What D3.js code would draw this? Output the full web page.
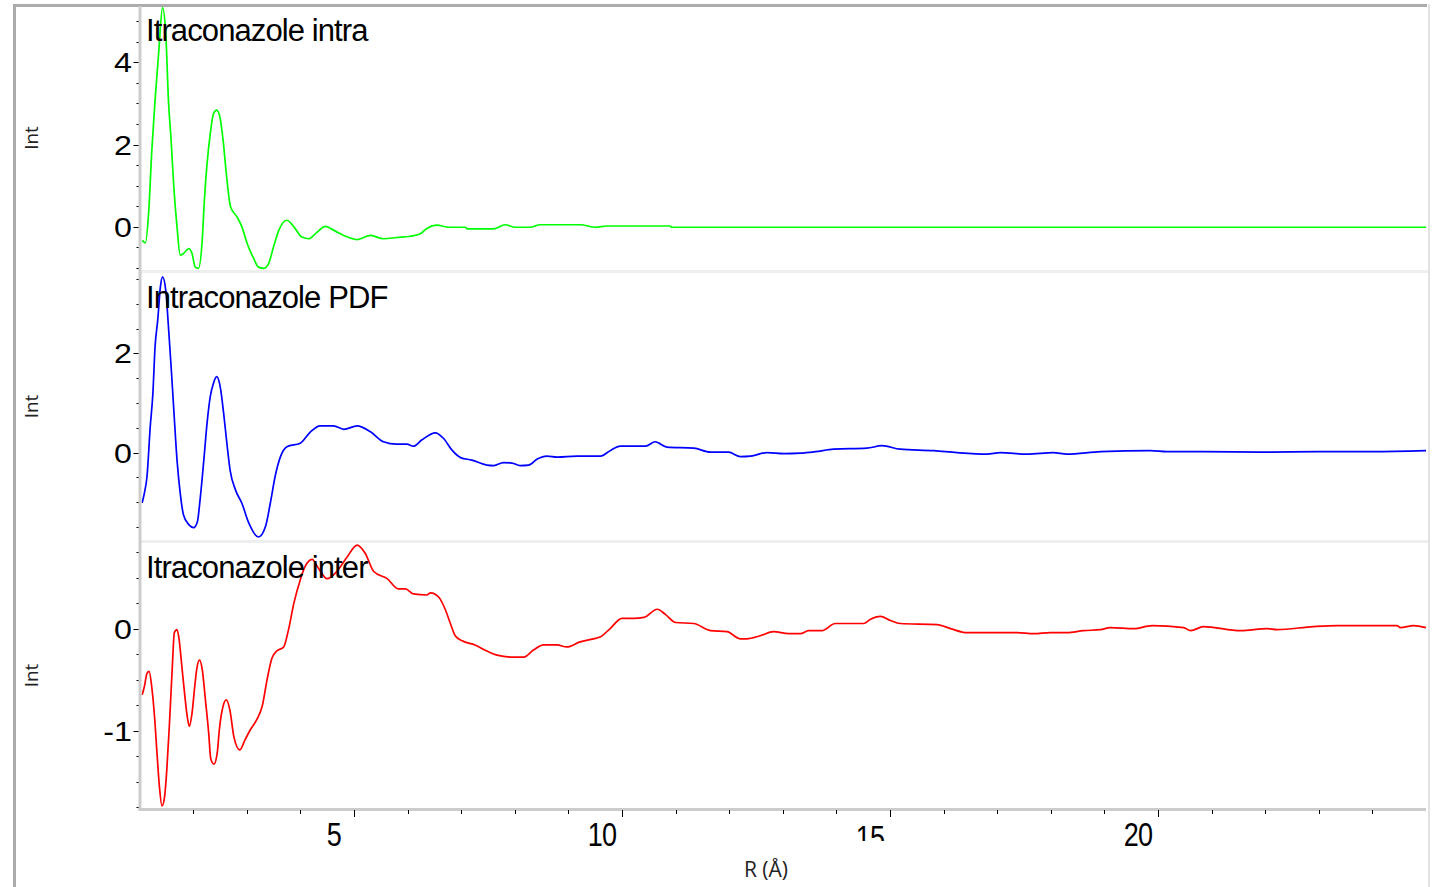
<!DOCTYPE html>
<html>
<head>
<meta charset="utf-8">
<script src="https://cdn.jsdelivr.net/npm/d3@7"></script>
<style>
  html, body { margin: 0; padding: 0; background: #fff; }
  svg { display: block; }
</style>
</head>
<body>
<svg id="chart" width="1435" height="887"></svg>
<script>
// Pair distribution functions of itraconazole: R (Å) and Int values per trace
const intraR = [1.05,1.11,1.17,1.23,1.29,1.36,1.43,1.49,1.54,1.59,1.64,1.70,1.76,1.82,1.92,1.98,2.04,2.10,2.17,2.21,2.26,2.32,2.38,2.44,2.50,2.56,2.62,2.70,2.82,2.91,3.01,3.13,3.22,3.32,3.41,3.50,3.60,3.75,3.88,4.03,4.16,4.28,4.47,4.62,4.81,5.06,5.31,5.55,5.80,6.05,6.24,6.36,6.55,6.77,7.08,7.11,7.61,7.82,8.01,8.29,8.47,9.22,9.50,9.72,10.90,10.93,13,16,19,22,25];
const intraInt = [-0.33,-0.39,0.33,1.86,3.07,4.28,5.33,4.70,3.07,2.10,0.97,0.00,-0.69,-0.65,-0.53,-0.65,-0.98,-1.01,-0.33,0.64,1.53,2.26,2.75,2.84,2.67,2.10,1.29,0.48,0.24,0.00,-0.41,-0.77,-0.98,-1.01,-0.89,-0.49,-0.08,0.16,0.00,-0.25,-0.29,-0.17,0.01,-0.08,-0.21,-0.31,-0.21,-0.29,-0.26,-0.23,-0.17,-0.04,0.04,-0.01,-0.01,-0.05,-0.05,0.05,-0.01,-0.01,0.05,0.05,-0.01,0.02,0.02,-0.01,-0.01,-0.01,-0.01,-0.01,-0.01];

const pdfR = [1.05,1.09,1.14,1.20,1.25,1.29,1.34,1.39,1.43,1.49,1.54,1.59,1.64,1.70,1.76,1.82,1.92,2.01,2.08,2.13,2.20,2.26,2.32,2.38,2.44,2.51,2.57,2.63,2.69,2.79,2.91,3.04,3.22,3.35,3.44,3.53,3.63,3.75,4.00,4.19,4.37,4.62,4.81,5.06,5.31,5.55,5.80,5.99,6.11,6.27,6.52,6.67,6.83,6.99,7.20,7.48,7.61,7.79,7.95,8.10,8.26,8.42,8.60,8.79,9.16,9.60,9.78,9.97,10.44,10.62,10.84,11.34,11.65,11.99,12.21,12.40,12.71,13.02,13.33,13.61,13.95,14.57,14.85,15.19,15.82,16.25,16.81,17.06,17.56,18.05,18.30,18.93,19.86,20.17,20.79,22,23,24,25];
const pdfInt = [-1.01,-0.82,-0.48,0.52,1.20,2.13,2.67,3.34,3.54,3.27,2.54,1.73,0.86,-0.15,-0.82,-1.25,-1.45,-1.51,-1.39,-0.95,-0.15,0.59,1.13,1.40,1.53,1.30,0.79,0.19,-0.35,-0.75,-1.02,-1.42,-1.70,-1.49,-1.02,-0.48,-0.08,0.12,0.19,0.42,0.54,0.54,0.47,0.54,0.42,0.22,0.17,0.17,0.13,0.26,0.40,0.29,0.05,-0.10,-0.15,-0.25,-0.26,-0.20,-0.21,-0.26,-0.25,-0.13,-0.07,-0.09,-0.07,-0.07,0.04,0.13,0.13,0.22,0.11,0.09,0.01,0.01,-0.08,-0.07,0.00,-0.02,-0.01,0.02,0.07,0.09,0.14,0.07,0.04,0.00,-0.03,0.00,-0.03,0.00,-0.03,0.02,0.04,0.02,0.02,0.01,0.02,0.02,0.04];

const interR = [1.05,1.09,1.14,1.18,1.23,1.28,1.33,1.37,1.42,1.47,1.51,1.56,1.61,1.65,1.70,1.74,1.79,1.84,1.89,1.93,1.98,2.03,2.07,2.12,2.17,2.23,2.29,2.33,2.39,2.45,2.49,2.56,2.62,2.69,2.76,2.87,2.97,3.07,3.19,3.29,3.38,3.47,3.56,3.69,3.78,3.88,4.00,4.09,4.22,4.34,4.50,4.68,4.87,5.06,5.21,5.37,5.62,5.83,5.96,6.11,6.36,6.43,6.58,6.71,6.80,6.89,7.02,7.26,7.48,7.67,7.98,8.17,8.35,8.54,8.79,8.97,9.22,9.47,9.60,9.78,10.00,10.22,10.41,10.66,10.81,11.00,11.34,11.65,11.96,12.21,12.33,12.58,12.83,13.11,13.33,13.48,13.73,13.98,14.51,14.63,14.82,15.01,15.19,15.88,16.13,16.44,17.37,17.68,17.99,18.30,18.61,18.93,19.11,19.55,19.89,20.48,20.61,20.85,21.54,22.04,22.22,22.90,23.34,24.46,24.52,24.77,25.00];
const interInt = [-0.65,-0.57,-0.44,-0.42,-0.58,-0.86,-1.25,-1.54,-1.74,-1.64,-1.38,-0.92,-0.40,-0.04,-0.01,-0.11,-0.37,-0.63,-0.86,-0.96,-0.83,-0.57,-0.39,-0.31,-0.40,-0.70,-1.02,-1.28,-1.33,-1.22,-0.99,-0.76,-0.70,-0.81,-1.06,-1.19,-1.09,-0.99,-0.89,-0.76,-0.50,-0.29,-0.22,-0.18,-0.01,0.25,0.48,0.61,0.68,0.59,0.49,0.56,0.70,0.82,0.74,0.56,0.49,0.39,0.39,0.34,0.33,0.35,0.31,0.18,0.05,-0.07,-0.12,-0.16,-0.22,-0.26,-0.28,-0.28,-0.21,-0.16,-0.16,-0.18,-0.13,-0.10,-0.08,0.00,0.10,0.10,0.11,0.19,0.14,0.06,0.05,-0.02,-0.03,-0.10,-0.10,-0.07,-0.03,-0.05,-0.05,-0.02,-0.02,0.05,0.05,0.09,0.12,0.08,0.05,0.04,0.00,-0.04,-0.04,-0.05,-0.04,-0.04,-0.02,-0.01,0.01,0.00,0.03,0.01,-0.02,0.02,-0.02,0.00,-0.01,0.02,0.03,0.03,0.01,0.03,0.01];

// Panel definitions: title, trace, y domain, labelled ticks, minor tick step
const titles = ["Itraconazole intra", "Intraconazole PDF", "Itraconazole inter"];
const colors = ["#00ff00", "#0000ff", "#ff0000"];
const yDomains = [[-1.05, 5.37], [-1.76, 3.62], [-1.76, 0.84]];
const yLabelTicks = [[0, 2, 4], [0, 2], [-1, 0]];
const yMinorSteps = [0.5, 0.5, 0.25];
const xLabelTicks = [5, 10, 15, 20];
const xLabel = "R (Å)";
const yLabel = "Int";

const series = [
  d3.zip(intraR, intraInt),
  d3.zip(pdfR, pdfInt),
  d3.zip(interR, interInt)
];

const svg = d3.select("#chart");
const left = 139.5, right = 1426;
const panels = [[6, 270], [273, 540], [543, 808]];

const x = d3.scaleLinear().domain([1, 25]).range([left, right]);

// outer frame
svg.append("rect").attr("x", 13).attr("y", 4).attr("width", 1414).attr("height", 3).attr("fill", "#ababab");
svg.append("rect").attr("x", 13).attr("y", 4).attr("width", 3).attr("height", 883).attr("fill", "#ababab");
svg.append("rect").attr("x", 1428).attr("y", 4).attr("width", 2).attr("height", 883).attr("fill", "#e2e2e2");

const font = "'Liberation Sans', Arial, sans-serif";

panels.forEach(([top, bottom], i) => {
  const y = d3.scaleLinear().domain(yDomains[i]).range([bottom, top]);

  // separator band at the bottom of upper panels
  if (i < 2) {
    svg.append("rect").attr("x", left + 2).attr("y", bottom).attr("width", right - left).attr("height", 3).attr("fill", "#eeeeee");
  }

  const clipId = "clip" + i;
  svg.append("clipPath").attr("id", clipId)
    .append("rect").attr("x", left + 1).attr("y", top).attr("width", right - left).attr("height", bottom - top);

  const line = d3.line().curve(d3.curveMonotoneX).x(d => x(d[0])).y(d => y(d[1]));
  svg.append("path")
    .attr("clip-path", `url(#${clipId})`)
    .attr("d", line(series[i]))
    .attr("fill", "none")
    .attr("stroke", colors[i])
    .attr("stroke-width", 1.7)
    .attr("stroke-linejoin", "round");

  // minor ticks
  const [d0, d1] = yDomains[i];
  const step = yMinorSteps[i];
  const minor = d3.range(Math.ceil(d0 / step) * step, d1 + 1e-9, step);
  svg.append("g").selectAll("line").data(minor).join("line")
    .attr("x1", left - 3).attr("x2", left)
    .attr("y1", d => Math.round(y(d)) + 0.5).attr("y2", d => Math.round(y(d)) + 0.5)
    .attr("stroke", "#000").attr("stroke-width", 1);
  // labelled ticks
  svg.append("g").selectAll("line").data(yLabelTicks[i]).join("line")
    .attr("x1", left - 6).attr("x2", left)
    .attr("y1", d => Math.round(y(d)) + 0.5).attr("y2", d => Math.round(y(d)) + 0.5)
    .attr("stroke", "#000").attr("stroke-width", 1);
  svg.append("g").selectAll("text").data(yLabelTicks[i]).join("text")
    .attr("transform", d => `translate(132,${y(d)}) scale(1.15,1)`)
    .attr("dy", "0.36em")
    .attr("text-anchor", "end")
    .attr("font-family", font).attr("font-size", 28)
    .attr("fill", "#000")
    .text(d => String(d));

  // panel title
  svg.append("text")
    .attr("x", 146).attr("y", top + 35)
    .attr("font-family", font).attr("font-size", 31)
    .attr("letter-spacing", -0.9)
    .attr("fill", "#000")
    .text(titles[i]);

  // y axis title
  const cy = (top + bottom) / 2;
  svg.append("text")
    .attr("transform", `translate(38,${cy}) rotate(-90)`)
    .attr("text-anchor", "middle")
    .attr("font-family", "'Open Sans', sans-serif").attr("font-size", 19)
    .attr("fill", "#222")
    .text(yLabel);
});

// left axis band
svg.append("rect").attr("x", left - 1).attr("y", 6).attr("width", 3).attr("height", 804).attr("fill", "#cccccc");
// bottom axis band
svg.append("rect").attr("x", left - 1).attr("y", 808).attr("width", right - left + 1).attr("height", 3).attr("fill", "#cccccc");

// x ticks
const xMinor = d3.range(2, 25, 1);
svg.append("g").selectAll("line").data(xMinor).join("line")
  .attr("x1", d => Math.round(x(d)) + 0.5).attr("x2", d => Math.round(x(d)) + 0.5)
  .attr("y1", 810).attr("y2", d => d % 5 === 0 ? 817 : 814)
  .attr("stroke", "#000").attr("stroke-width", 1);

svg.append("g").selectAll("text").data(xLabelTicks).join("text")
  .attr("transform", d => `translate(${x(d) - 20},${d === 15 ? 849 : 846}) scale(0.82,1)`)
  .attr("text-anchor", "middle")
  .attr("font-family", font).attr("font-size", 33)
  .attr("letter-spacing", -1)
  .attr("fill", "#000")
  .text(d => d);

svg.append("text")
  .attr("x", 766).attr("y", 877)
  .attr("text-anchor", "middle")
  .attr("font-family", "'Open Sans', sans-serif").attr("font-size", 21)
  .attr("fill", "#222")
  .text(xLabel);

// the "15" label loses its foot at the strip edge
svg.append("rect").attr("x", x(15) - 40).attr("y", 841).attr("width", 40).attr("height", 10).attr("fill", "#fff");
</script>
</body>
</html>
